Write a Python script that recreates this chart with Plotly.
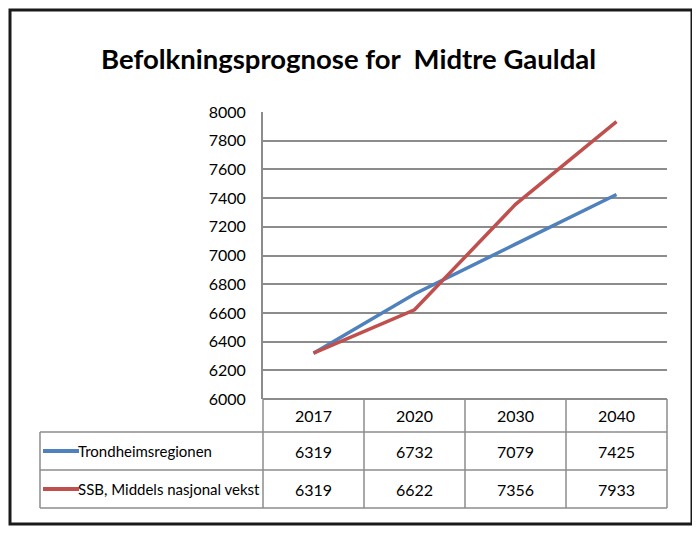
import plotly.graph_objects as go

years = ["2017", "2020", "2030", "2040"]
series_names = ["Trondheimsregionen", "SSB, Middels nasjonal vekst"]
trondheim = [6319, 6732, 7079, 7425]
ssb = [6319, 6622, 7356, 7933]
colors = ["#4F81BD", "#C0504D"]
title = "Befolkningsprognose for  Midtre Gauldal"

FONT = "Lato, Roboto, sans-serif"
OFF = 8  # page body margin
W, H = 700 - OFF, 539 - OFF
L, R, T, B = 263 - OFF, 700 - 667, 112 - OFF, 539 - 399
pw, ph = W - L - R, H - T - B

def px_x(p):
    return (p - OFF - L) / pw

def px_y(p):
    return (H - B - (p - OFF)) / ph

fig = go.Figure()
for name, vals, c in zip(series_names, [trondheim, ssb], colors):
    fig.add_trace(go.Scatter(x=list(range(len(years))), y=vals, mode="lines", name=name,
                             line=dict(color=c, width=3.5), showlegend=False))

shapes = []
annotations = []
grid_c = "#8c8c8c"
# outer frame
shapes.append(dict(type="rect", xref="paper", yref="paper", x0=px_x(10), x1=px_x(692),
                   y0=px_y(524), y1=px_y(10), line=dict(color="#1a1a1a", width=3)))
row_edges = [399, 432, 470, 508]
lab_left = px_x(40)
shapes.append(dict(type="line", xref="paper", yref="paper", x0=0, x1=1,
                   y0=px_y(row_edges[0]), y1=px_y(row_edges[0]), line=dict(color=grid_c, width=2)))
for e in row_edges[1:]:
    shapes.append(dict(type="line", xref="paper", yref="paper", x0=lab_left, x1=1,
                       y0=px_y(e), y1=px_y(e), line=dict(color=grid_c, width=1.5)))
n = len(years)
for i in range(n + 1):
    xp = i / n
    shapes.append(dict(type="line", xref="paper", yref="paper", x0=xp, x1=xp,
                       y0=px_y(row_edges[-1]), y1=px_y(row_edges[0]),
                       line=dict(color=grid_c, width=1.5)))
shapes.append(dict(type="line", xref="paper", yref="paper", x0=lab_left, x1=lab_left,
                   y0=px_y(row_edges[-1]), y1=px_y(row_edges[1]), line=dict(color=grid_c, width=1.5)))

cell_font = dict(family=FONT, size=16, color="#000")
for i, yr in enumerate(years):
    annotations.append(dict(x=i, xref="x", y=px_y((row_edges[0] + row_edges[1]) / 2), yref="paper",
                            xanchor="center", yanchor="middle",
                            text=yr, showarrow=False, font=cell_font))
for r, (name, vals, c) in enumerate(zip(series_names, [trondheim, ssb], colors)):
    yc = px_y((row_edges[r + 1] + row_edges[r + 2]) / 2)
    for i, v in enumerate(vals):
        annotations.append(dict(x=i, xref="x", y=yc, yref="paper", text=str(v), showarrow=False,
                                xanchor="center", yanchor="middle", font=cell_font))
    shapes.append(dict(type="line", xref="paper", yref="paper", x0=px_x(43), x1=px_x(79),
                       y0=yc, y1=yc, line=dict(color=c, width=4)))
    annotations.append(dict(x=px_x(78), xref="paper", y=yc, yref="paper", text=name, showarrow=False,
                            xanchor="left", yanchor="middle", xshift=-2,
                            font=dict(family=FONT, size=15, color="#000")))

annotations.append(dict(x=px_x(348), xref="paper", y=px_y(58), yref="paper", text="<b>" + title + "</b>",
                        xanchor="center", yanchor="middle",
                        showarrow=False, font=dict(family=FONT, size=27.5, color="#000")))

fig.update_layout(
    width=W, height=H, margin=dict(l=L, r=R, t=T, b=B),
    paper_bgcolor="white", plot_bgcolor="white",
    shapes=shapes, annotations=annotations,
    xaxis=dict(range=[-0.5, n - 0.5], showticklabels=False, showgrid=False, zeroline=False,
               fixedrange=True),
    yaxis=dict(range=[6000, 8000], dtick=200, showgrid=True, gridcolor=grid_c, gridwidth=2,
               zeroline=False, showline=True, linecolor=grid_c, linewidth=2,
               ticks="", ticklabelstandoff=12,
               tickfont=dict(family=FONT, size=16, color="#000")),
    font=dict(family=FONT),
)
fig.write_html("out.html")
